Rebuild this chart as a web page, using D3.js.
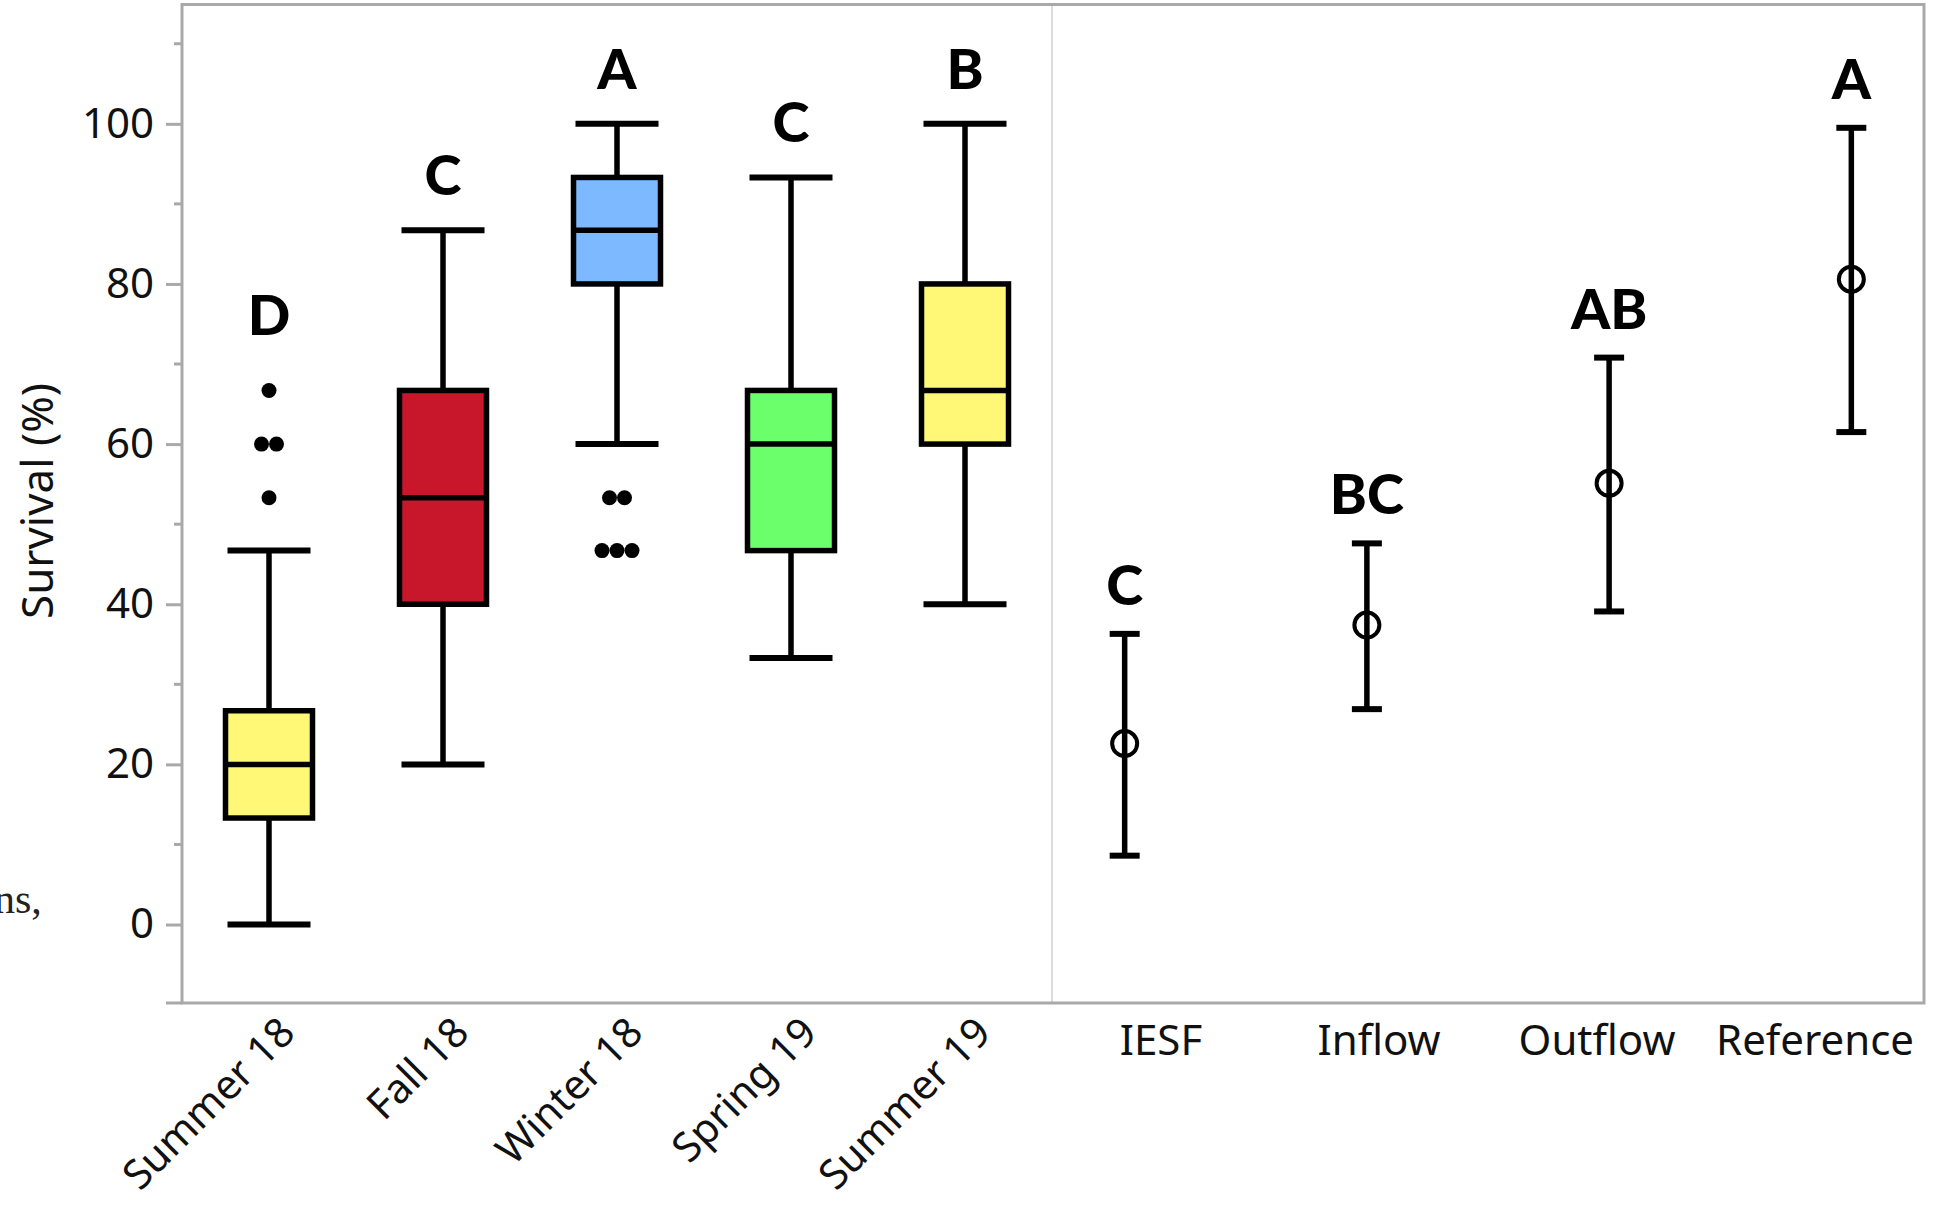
<!DOCTYPE html>
<html>
<head>
<meta charset="utf-8">
<script src="https://cdn.jsdelivr.net/npm/d3@7"></script>
<style>
  body { margin: 0; background: #fff; }
  svg text { font-family: "Noto Sans", "Open Sans", sans-serif; }
</style>
</head>
<body>
<div id="chart"></div>
<script>
// Season box plots (survival %)
const seasons = ["Summer 18", "Fall 18", "Winter 18", "Spring 19", "Summer 19"];
const seasonLow = [0, 20, 60, 33.3, 40];
const seasonQ1 = [13.3, 40, 80, 46.7, 60];
const seasonMedian = [20, 53.3, 86.7, 60, 66.7];
const seasonQ3 = [26.7, 66.7, 93.3, 66.7, 80];
const seasonHigh = [46.7, 86.7, 100, 93.3, 100];
const seasonOutliers = [[53.3, 60, 60, 66.7], [], [46.7, 46.7, 46.7, 53.3, 53.3], [], []];
const seasonLetters = ["D", "C", "A", "C", "B"];
const seasonColors = ["#fff877", "#c8172a", "#7db9ff", "#6bff6b", "#fff877"];

// Site means with intervals
const sites = ["IESF", "Inflow", "Outflow", "Reference"];
const siteMean = [22.6, 37.4, 55.1, 80.6];
const siteLower = [8.6, 26.9, 39.1, 61.5];
const siteUpper = [36.3, 47.6, 70.8, 99.5];
const siteLetters = ["C", "BC", "AB", "A"];

const yTicks = [0, 20, 40, 60, 80, 100];
const yMinorTicks = [10, 30, 50, 70, 90, 110];

const W = 1944, H = 1205;
const plotLeft = 182, plotTop = 4.5, plotRight = 1924, plotBottom = 1003, split = 1052;

const svg = d3.select("#chart").append("svg")
    .attr("width", W)
    .attr("height", H);

const y = d3.scaleLinear().domain([-9.8, 114.9]).range([plotBottom, plotTop]);
const xSeason = d3.scaleBand().domain(seasons).range([plotLeft, split]);
const xSite = d3.scaleBand().domain(sites).range([split, plotRight]);
const xSitePt = d3.scalePoint().domain(sites).range([split, plotRight]).padding(0.3);

const frameColor = "#a9a9a9";
const sw = 5.5;

// divider between panels
svg.append("line")
    .attr("x1", split).attr("x2", split)
    .attr("y1", plotTop).attr("y2", plotBottom)
    .attr("stroke", "#dcdcdc").attr("stroke-width", 2);

// y axis
const yAxis = svg.append("g")
    .attr("transform", `translate(${plotLeft},0)`)
    .call(d3.axisLeft(y).tickValues(yTicks).tickSize(16).tickPadding(12));
yAxis.select(".domain").remove();
yAxis.selectAll(".tick line").attr("stroke", frameColor).attr("stroke-width", 3);
yAxis.selectAll(".tick text").attr("font-size", 42).attr("fill", "#111");

svg.append("g").selectAll("line")
  .data(yMinorTicks)
  .join("line")
    .attr("x1", plotLeft - 8).attr("x2", plotLeft)
    .attr("y1", d => y(d)).attr("y2", d => y(d))
    .attr("stroke", frameColor).attr("stroke-width", 3);

// frame
svg.append("rect")
    .attr("x", plotLeft).attr("y", plotTop)
    .attr("width", plotRight - plotLeft).attr("height", plotBottom - plotTop)
    .attr("fill", "none")
    .attr("stroke", frameColor).attr("stroke-width", 3);
svg.append("line")
    .attr("x1", plotLeft - 16).attr("x2", plotLeft)
    .attr("y1", plotBottom).attr("y2", plotBottom)
    .attr("stroke", frameColor).attr("stroke-width", 3);

// y title
svg.append("text")
    .attr("transform", "translate(53,501) rotate(-90)")
    .attr("text-anchor", "middle")
    .attr("font-size", 44)
    .attr("fill", "#111")
    .text("Survival (%)");

// stray text cut off from the page
svg.append("text")
    .attr("x", -6).attr("y", 913)
    .style("font-family", "'Liberation Serif', serif")
    .attr("font-size", 42)
    .attr("fill", "#222")
    .text("ns,");

// season x labels (rotated)
svg.append("g").selectAll("text")
  .data(seasons)
  .join("text")
    .attr("transform", d => `translate(${xSeason(d) + xSeason.bandwidth() / 2 + 28},${plotBottom + 32}) rotate(-45)`)
    .attr("text-anchor", "end")
    .attr("font-size", 41)
    .attr("fill", "#111")
    .text(d => d);

// site x labels
const xAxis = svg.append("g")
    .attr("transform", `translate(0,${plotBottom})`)
    .call(d3.axisBottom(xSite).tickSize(0).tickPadding(22));
xAxis.select(".domain").remove();
xAxis.selectAll(".tick text").attr("font-size", 42).attr("fill", "#111");

// box plots
const boxes = seasons.map((s, i) => ({
  name: s, low: seasonLow[i], q1: seasonQ1[i], med: seasonMedian[i],
  q3: seasonQ3[i], high: seasonHigh[i], out: seasonOutliers[i],
  letter: seasonLetters[i], color: seasonColors[i]
}));

const boxW = 87, capW = 83;
const bx = d => xSeason(d.name) + xSeason.bandwidth() / 2;

const gBox = svg.append("g").selectAll("g")
  .data(boxes)
  .join("g");

gBox.append("line")
    .attr("x1", bx).attr("x2", bx)
    .attr("y1", d => y(d.low)).attr("y2", d => y(d.high))
    .attr("stroke", "#000").attr("stroke-width", sw);

gBox.selectAll(".cap")
  .data(d => [[bx(d), d.low], [bx(d), d.high]])
  .join("line")
    .attr("class", "cap")
    .attr("x1", d => d[0] - capW / 2).attr("x2", d => d[0] + capW / 2)
    .attr("y1", d => y(d[1])).attr("y2", d => y(d[1]))
    .attr("stroke", "#000").attr("stroke-width", sw + 0.5);

gBox.append("rect")
    .attr("x", d => bx(d) - boxW / 2)
    .attr("y", d => y(d.q3))
    .attr("width", boxW)
    .attr("height", d => y(d.q1) - y(d.q3))
    .attr("fill", d => d.color)
    .attr("stroke", "#000").attr("stroke-width", sw);

gBox.append("line")
    .attr("x1", d => bx(d) - boxW / 2).attr("x2", d => bx(d) + boxW / 2)
    .attr("y1", d => y(d.med)).attr("y2", d => y(d.med))
    .attr("stroke", "#000").attr("stroke-width", sw);

// outliers: identical values sit side by side
gBox.each(function(d) {
  const counts = d3.rollup(d.out, v => v.length, v => v);
  const pts = [];
  counts.forEach((n, v) => {
    for (let k = 0; k < n; k++) pts.push({ v: v, off: (k - (n - 1) / 2) * 15 });
  });
  d3.select(this).selectAll(".out")
    .data(pts)
    .join("circle")
      .attr("class", "out")
      .attr("cx", p => bx(d) + p.off)
      .attr("cy", p => y(p.v))
      .attr("r", 7.5)
      .attr("fill", "#000");
});

// letters above boxes (higher when an outlier sits above the whisker)
gBox.append("text")
    .attr("x", bx)
    .attr("y", d => {
      const top = d3.max([d.high, ...d.out]);
      return y(top) - (top > d.high ? 55 : 35);
    })
    .attr("text-anchor", "middle")
    .style("font-family", "Lato, sans-serif")
    .attr("font-weight", 900)
    .attr("font-size", 56)
    .attr("fill", "#000")
    .text(d => d.letter);

// site means with intervals
const means = sites.map((s, i) => ({
  name: s, mean: siteMean[i], lo: siteLower[i], hi: siteUpper[i], letter: siteLetters[i]
}));
const mx = d => xSitePt(d.name);

const gMean = svg.append("g").selectAll("g")
  .data(means)
  .join("g");

gMean.append("line")
    .attr("x1", mx).attr("x2", mx)
    .attr("y1", d => y(d.lo)).attr("y2", d => y(d.hi))
    .attr("stroke", "#000").attr("stroke-width", sw);

gMean.selectAll(".cap")
  .data(d => [[mx(d), d.lo], [mx(d), d.hi]])
  .join("line")
    .attr("class", "cap")
    .attr("x1", d => d[0] - 15).attr("x2", d => d[0] + 15)
    .attr("y1", d => y(d[1])).attr("y2", d => y(d[1]))
    .attr("stroke", "#000").attr("stroke-width", 6);

gMean.append("circle")
    .attr("cx", mx)
    .attr("cy", d => y(d.mean))
    .attr("r", 12.5)
    .attr("fill", "none")
    .attr("stroke", "#000").attr("stroke-width", 4);

gMean.append("text")
    .attr("x", mx)
    .attr("y", d => y(d.hi) - 29)
    .attr("text-anchor", "middle")
    .style("font-family", "Lato, sans-serif")
    .attr("font-weight", 900)
    .attr("font-size", 56)
    .attr("fill", "#000")
    .text(d => d.letter);
</script>
</body>
</html>
